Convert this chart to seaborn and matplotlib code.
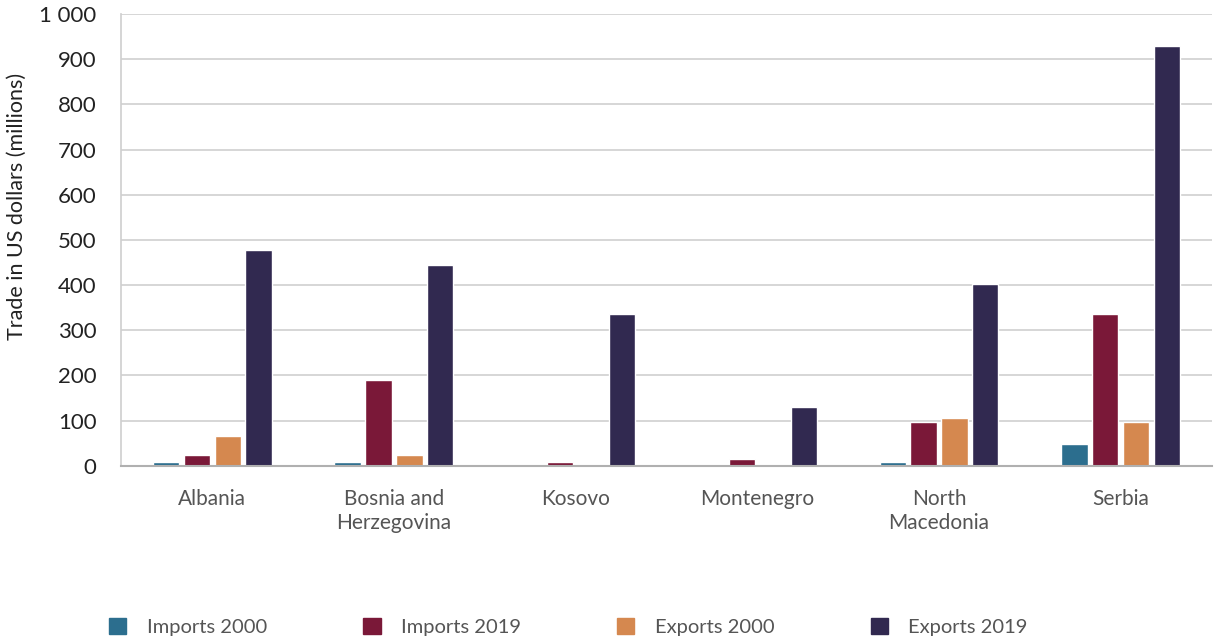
import matplotlib.pyplot as plt
import matplotlib.ticker as mticker
import pandas as pd
import seaborn as sns

countries = ["Albania", "Bosnia and\nHerzegovina", "Kosovo", "Montenegro",
             "North\nMacedonia", "Serbia"]
series = ["Imports 2000", "Imports 2019", "Exports 2000", "Exports 2019"]
imports_2000 = [8, 8, 0, 0, 8, 49]
imports_2019 = [24, 190, 8, 16, 97, 336]
exports_2000 = [66, 24, 0, 0, 106, 97]
exports_2019 = [478, 445, 336, 131, 403, 929]
colors = ["#2c6e8e", "#7a1838", "#d5884f", "#312950"]

rows = []
for s, vals in zip(series, [imports_2000, imports_2019, exports_2000, exports_2019]):
    for c, v in zip(countries, vals):
        rows.append({"Country": c, "Series": s, "Value": v})
df = pd.DataFrame(rows)

sns.set_theme(style="white")
plt.rcParams["font.family"] = ["Lato", "DejaVu Sans"]

fig, ax = plt.subplots(figsize=(12.14, 6.38), dpi=100)
fig.subplots_adjust(left=0.1, right=0.998, top=0.978, bottom=0.27)

sns.barplot(data=df, x="Country", y="Value", hue="Series", palette=colors,
            width=0.68, gap=0.15, ax=ax, legend=False, saturation=1)

ax.set_ylim(0, 1000)
ax.set_yticks(range(0, 1001, 100))
ax.yaxis.set_major_formatter(mticker.FuncFormatter(lambda v, p: f"{int(v):,}".replace(",", " ")))
ax.grid(axis="y", color="#d0d0d0", linewidth=1.2)
ax.set_axisbelow(True)
for side in ["top", "right"]:
    ax.spines[side].set_visible(False)
ax.spines["left"].set_color("#d0d0d0")
ax.spines["bottom"].set_color("#b0b0b0")
ax.spines["bottom"].set_linewidth(1.5)
ax.tick_params(axis="y", labelsize=16, colors="#222222", length=0, pad=18)
ax.tick_params(axis="x", labelsize=15, colors="#555555", length=0, pad=17)
ax.set_xlabel("")
ax.set_ylabel("Trade in US dollars (millions)", fontsize=15.5, color="#222222")
ax.yaxis.set_label_coords(-0.087, 0.573)

handles = [plt.Rectangle((0, 0), 1, 1, color=c) for c in colors]
fig.legend(handles, series, loc="center left", bbox_to_anchor=(0.09, 0.018), ncol=4,
           frameon=False, fontsize=14.5, handlelength=0.85, handleheight=0.85,
           handletextpad=1.0, columnspacing=4.8, labelcolor="#555555",
           borderaxespad=0, borderpad=0)

fig.savefig("out.png", dpi=100)
